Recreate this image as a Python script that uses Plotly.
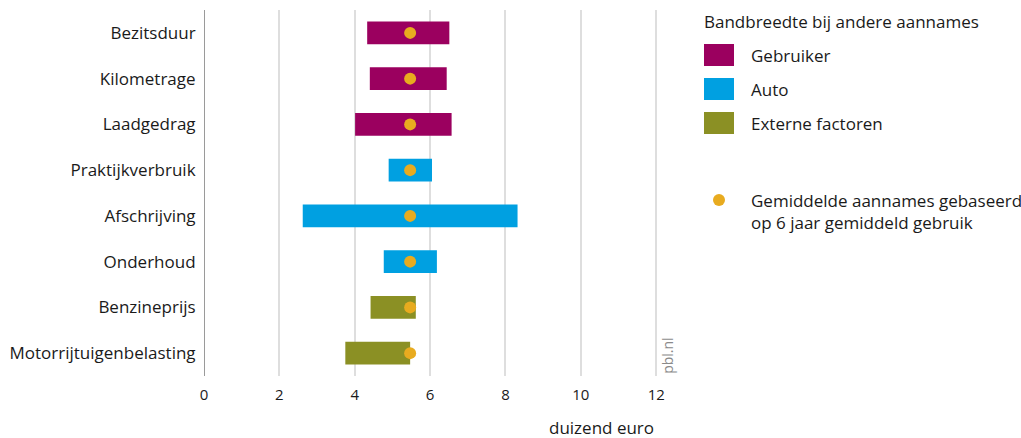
import plotly.graph_objects as go

categories = ["Bezitsduur", "Kilometrage", "Laadgedrag", "Praktijkverbruik",
              "Afschrijving", "Onderhoud", "Benzineprijs", "Motorrijtuigenbelasting"]
groups = ["Gebruiker", "Gebruiker", "Gebruiker", "Auto", "Auto", "Auto",
          "Externe factoren", "Externe factoren"]
low = [4.33, 4.40, 4.01, 4.90, 2.62, 4.77, 4.42, 3.75]
high = [6.51, 6.44, 6.57, 6.05, 8.32, 6.18, 5.62, 5.47]
mean = [5.47, 5.47, 5.47, 5.47, 5.47, 5.47, 5.47, 5.47]
x_ticks = [0, 2, 4, 6, 8, 10, 12]

group_colors = {"Gebruiker": "#9b005f", "Auto": "#00a0e1", "Externe factoren": "#8b9024"}
dot_color = "#e8ab1f"
font_family = "Open Sans, Noto Sans, sans-serif"

fig = go.Figure()
for g in ["Gebruiker", "Auto", "Externe factoren"]:
    idx = [i for i, gg in enumerate(groups) if gg == g]
    fig.add_trace(go.Bar(
        y=[categories[i] for i in idx],
        x=[high[i] - low[i] for i in idx],
        base=[low[i] for i in idx],
        orientation="h",
        marker=dict(color=group_colors[g], line=dict(width=0)),
        width=0.5,
        name=g,
        showlegend=False,
    ))

fig.add_trace(go.Scatter(
    y=categories, x=mean, mode="markers",
    marker=dict(color=dot_color, size=12),
    showlegend=False,
))

fig.update_layout(
    width=1021, height=438,
    margin=dict(l=204, r=361, t=10, b=62, autoexpand=False),
    plot_bgcolor="white", paper_bgcolor="white",
    font=dict(family=font_family, size=17, color="#1a1a1a"),
    barmode="overlay",
    xaxis=dict(
        range=[0, 12.1], tickvals=x_ticks, ticktext=[str(t) for t in x_ticks],
        showgrid=True, gridcolor="#dedede", gridwidth=1.5,
        zeroline=False, showline=False, automargin=False,
        ticks="outside", ticklen=5, tickcolor="rgba(0,0,0,0)",
        tickfont=dict(size=15),
    ),
    yaxis=dict(
        categoryorder="array", categoryarray=categories,
        range=[len(categories) - 0.5, -0.5],
        showgrid=False, zeroline=False, showline=False, automargin=False,
        ticks="outside", ticklen=4, tickcolor="rgba(0,0,0,0)",
        tickfont=dict(size=17),
    ),
)

# zero axis line
fig.add_shape(type="line", xref="x", yref="paper", x0=0, x1=0, y0=0, y1=1,
              line=dict(color="#9a9a9a", width=2))

# pixel -> paper helpers
pw = 456
def xp(px):
    return (px - 204) / pw
H = 366
def yp(py):
    return 1 - (py - 10) / H

# x-axis title
fig.add_annotation(text="duizend euro", xref="x", yref="paper", x=12, y=yp(427),
                   xanchor="right", yanchor="middle", showarrow=False,
                   font=dict(size=17))
# pbl.nl
fig.add_annotation(text="pbl.nl", xref="paper", yref="paper", x=1.015, y=0.0,
                   xanchor="center", yanchor="bottom", textangle=-90, showarrow=False,
                   font=dict(size=14, color="#8a8a8a"))

# custom legend
fig.add_annotation(text="Bandbreedte bij andere aannames", xref="paper", yref="paper",
                   x=xp(702), y=yp(21), xanchor="left", yanchor="middle",
                   showarrow=False, font=dict(size=17))
leg_items = [("Gebruiker", 55), ("Auto", 89), ("Externe factoren", 123)]
for name, cy in leg_items:
    fig.add_shape(type="rect", xref="paper", yref="paper",
                  x0=xp(704), x1=xp(734), y0=yp(cy - 11), y1=yp(cy + 11),
                  fillcolor=group_colors[name], line=dict(width=0))
    fig.add_annotation(text=name, xref="paper", yref="paper",
                       x=xp(749), y=yp(cy), xanchor="left", yanchor="middle",
                       showarrow=False, font=dict(size=17))
fig.add_shape(type="circle", xref="paper", yref="paper",
              x0=xp(713), x1=xp(725), y0=yp(194), y1=yp(206),
              fillcolor=dot_color, line=dict(width=0))
fig.add_annotation(text="Gemiddelde aannames gebaseerd<br>op 6 jaar gemiddeld gebruik",
                   xref="paper", yref="paper", x=xp(749), y=yp(187),
                   xanchor="left", yanchor="top", align="left",
                   showarrow=False, font=dict(size=17))

fig.write_html("out.html", config={"displayModeBar": False},
               post_script="document.body.style.margin='0';")
